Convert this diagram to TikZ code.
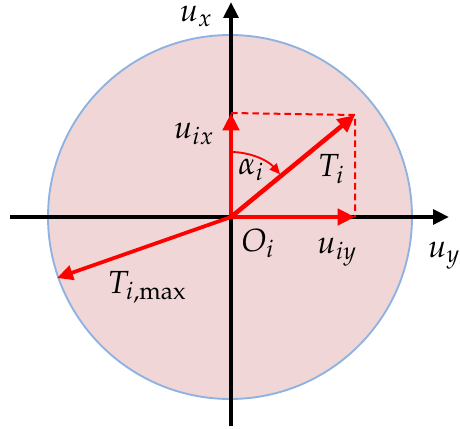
\documentclass[tikz,border=0pt]{standalone}
\usepackage{mathpazo}
\usetikzlibrary{arrows.meta}
\definecolor{discfill}{RGB}{240,214,214}
\definecolor{discline}{RGB}{142,178,226}
\tikzset{
  axis/.style={line width=3pt, -{Triangle[length=12pt,width=11pt]}},
  vec/.style={red, line width=3.4pt, -{Triangle[length=13pt,width=12pt]}},
  vecthin/.style={red, line width=2.8pt, -{Triangle[length=12pt,width=11pt]}},
  guide/.style={red, line width=1.5pt, dash pattern=on 5pt off 3pt},
  lbl/.style={font=\fontsize{24}{28}\selectfont, inner sep=0pt}
}
\begin{document}
\begin{tikzpicture}[x=0.75pt,y=-0.75pt]
\useasboundingbox (0,0) rectangle (460,428);
% disc
\fill[discfill] (230,217) circle (182);
\draw[discline, line width=1.4pt] (230,217) circle (182);
% axes
\coordinate (O) at (231,217);
\coordinate (xl) at (10,217);
\coordinate (xr) at (449,217);
\coordinate (yb) at (231,426);
\coordinate (yt) at (231,2);
\draw[axis] (xl) -- (xr);
\draw[axis] (yb) -- (yt);
% components
\coordinate (Ux) at (231,113);
\coordinate (Uy) at (355,217);
\coordinate (T) at (355,115);
\coordinate (Tmax) at (57,278);
\draw[guide] (Ux) -- (T) -- (Uy);
\draw[vec] (O) -- (Ux);
\draw[vec] (O) -- (Uy);
\draw[vec] (O) -- (T);
\draw[vecthin] (O) -- (Tmax);
% angle arc
\coordinate (A0) at (231,152);
\draw[red, line width=1.4pt, -{Triangle[length=8pt,width=7pt]}]
  (A0) arc[start angle=-90, end angle=-41, radius=65];
% labels
\node[lbl] (lux) at (196,16) {$u_x$};
\node[lbl] (luix) at (194,134) {$u_{ix}$};
\node[lbl] (lal) at (251,170) {$\alpha_i$};
\node[lbl] (lT) at (331,169) {$T_i$};
\node[lbl] (lO) at (258,243) {$O_i$};
\node[lbl] (luiy) at (337,252) {$u_{iy}$};
\node[lbl] (luy) at (444,256) {$u_y$};
\node[lbl] (lTm) at (147,287) {$T_{i,\mathrm{max}}$};
\end{tikzpicture}
\end{document}
